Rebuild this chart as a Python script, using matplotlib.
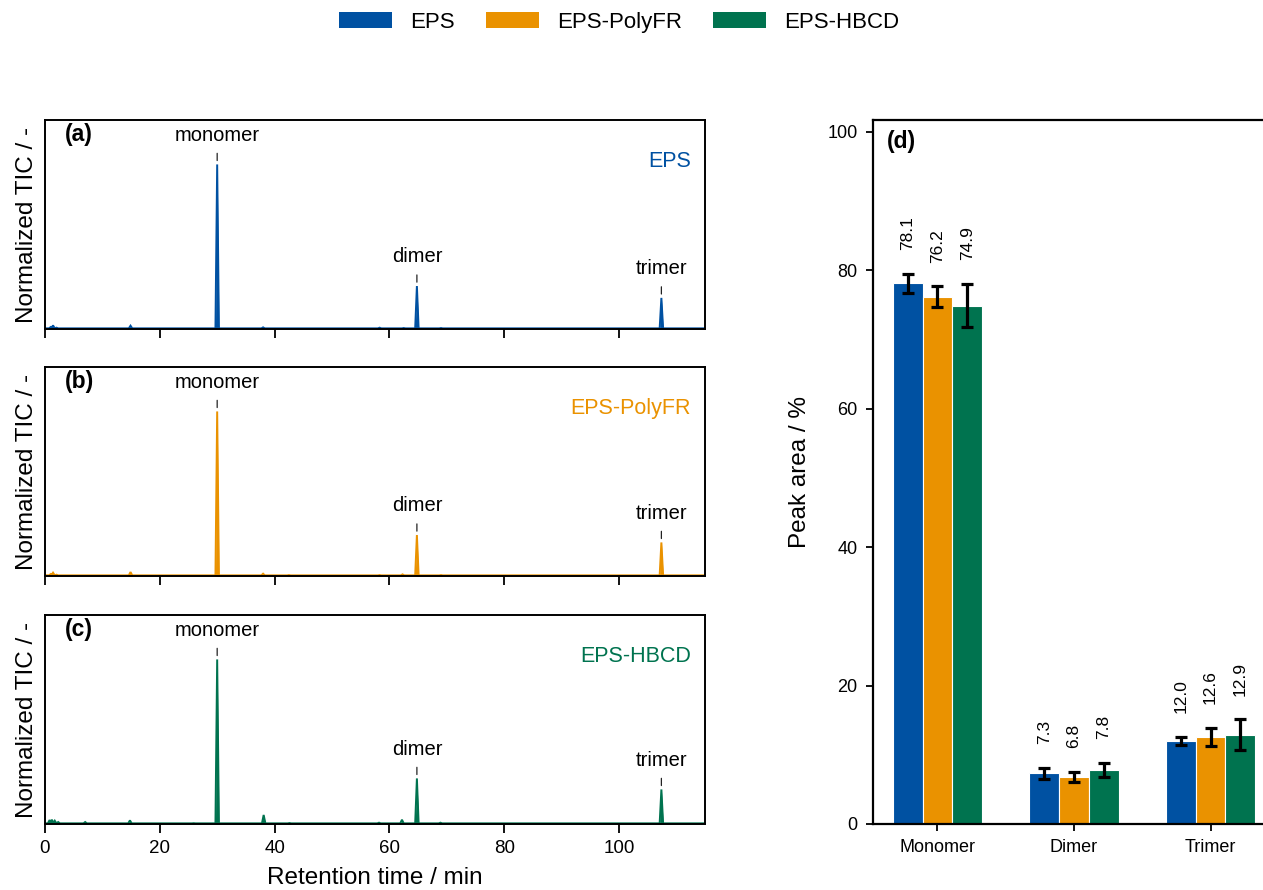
import numpy as np
import matplotlib
matplotlib.use("Agg")
import matplotlib.pyplot as plt
from matplotlib.patches import Patch

plt.rcParams['font.family'] = ['Liberation Sans', 'DejaVu Sans']

# sample names and colours
samples = ['EPS', 'EPS-PolyFR', 'EPS-HBCD']
colors = ['#0051A2', '#EA9200', '#00734F']

# chromatogram peaks (retention time / min, height rel. to monomer)
eps_times = [1.0, 1.4, 2.0, 14.9, 30.0, 38.0, 58.3, 62.5, 64.8, 69.0, 107.4]
eps_heights = [0.012, 0.022, 0.008, 0.020, 1.0, 0.010, 0.008, 0.006, 0.261, 0.006, 0.189]

polyfr_times = [1.0, 1.4, 2.0, 14.9, 30.0, 38.0, 42.5, 58.3, 62.3, 64.8, 69.0, 107.4]
polyfr_heights = [0.012, 0.020, 0.008, 0.024, 1.0, 0.014, 0.006, 0.006, 0.010, 0.249, 0.006, 0.204]

hbcd_times = [0.8, 1.2, 1.7, 2.3, 7.0, 14.8, 25.9, 30.0, 38.1, 42.6, 58.2, 62.2, 64.8, 68.9, 107.4]
hbcd_heights = [0.024, 0.026, 0.020, 0.012, 0.012, 0.022, 0.005, 1.0, 0.055, 0.006, 0.008, 0.026, 0.277, 0.008, 0.210]

# labelled oligomer peaks: (name, retention time)
oligomers = ['monomer', 'dimer', 'trimer']
oligomer_times = [30.0, 64.8, 107.4]

# bar chart values
categories = ['Monomer', 'Dimer', 'Trimer']
eps_area = [78.1, 7.3, 12.0]
polyfr_area = [76.2, 6.8, 12.6]
hbcd_area = [74.9, 7.8, 12.9]
eps_err = [1.4, 0.8, 0.6]
polyfr_err = [1.5, 0.7, 1.3]
hbcd_err = [3.1, 1.0, 2.2]

panel_labels = ['(a)', '(b)', '(c)']
traces = [(eps_times, eps_heights), (polyfr_times, polyfr_heights), (hbcd_times, hbcd_heights)]


def make_trace(times, heights, half=0.3, base=0.004):
    # turn a peak list into a spiky line trace
    x = [0.0]
    y = [base]
    for t, h in zip(times, heights):
        x += [t - half, t, t + half]
        y += [base, h, base]
    x.append(115.0)
    y.append(base)
    return np.array(x), np.array(y)


fig = plt.figure(figsize=(12.63, 8.9), dpi=100)

W, H = 1263.0, 890.0
chrom_tops = [120, 367, 615]
chrom_h = 209

for i, (tr, name, col) in enumerate(zip(traces, samples, colors)):
    top = chrom_tops[i]
    ax = fig.add_axes([45 / W, 1 - (top + chrom_h) / H, 660 / W, chrom_h / H])
    x, y = make_trace(*tr)
    ax.fill_between(x, 0, y, color=col, lw=0)
    ax.plot(x, y, color=col, lw=1.4, solid_joinstyle='miter')
    ax.set_xlim(0, 115)
    ax.set_ylim(0, 1.27)
    ax.set_yticks([])
    ax.set_xticks(np.arange(0, 101, 20))
    ax.tick_params(axis='x', direction='out', length=6.5, width=1.3, labelsize=13.5, pad=5)
    for s in ax.spines.values():
        s.set_linewidth(1.4)
    if i < 2:
        ax.tick_params(axis='x', labelbottom=False)
    else:
        ax.set_xlabel('Retention time / min', fontsize=17.5, labelpad=7)
    ax.set_ylabel('Normalized TIC / -', fontsize=17.5, labelpad=5)

    ax.text(0.03, 0.93, panel_labels[i], transform=ax.transAxes, fontsize=16.5,
            fontweight='bold', ha='left', va='center')
    ax.text(0.979, 0.80, name, transform=ax.transAxes, fontsize=15.5, color=col,
            ha='right', va='center')

    for lab, t in zip(oligomers, oligomer_times):
        h = tr[1][tr[0].index(t)]
        ax.annotate('', xy=(t, h), xytext=(0, 8), textcoords='offset points',
                    arrowprops=dict(arrowstyle='-', lw=0.9, color='#222222',
                                    shrinkA=0, shrinkB=2.8))
        ax.annotate(lab, xy=(t, h), xytext=(0, 17), textcoords='offset points',
                    ha='center', va='baseline', fontsize=14.5)

# bar chart (d)
axd = fig.add_axes([873 / W, 1 - 824 / H, 402 / W, 704 / H])
xpos = np.arange(len(categories))
bw = 0.218
areas = [eps_area, polyfr_area, hbcd_area]
errs = [eps_err, polyfr_err, hbcd_err]
for j in range(3):
    xs = xpos + (j - 1) * bw
    axd.bar(xs, areas[j], width=bw, color=colors[j], edgecolor='white', linewidth=0.8,
            yerr=errs[j], error_kw=dict(elinewidth=2.3, capsize=4.3, capthick=2.3, ecolor='black'))
    for xv, v, e in zip(xs, areas[j], errs[j]):
        axd.annotate(f'{v:.1f}', xy=(xv, v + e), xytext=(0, 17), textcoords='offset points',
                     rotation=90, ha='center', va='bottom', fontsize=12.5)

axd.set_xlim(-0.472, 2.472)
axd.set_ylim(0, 101.7)
axd.set_xticks(xpos)
axd.set_xticklabels(categories)
axd.set_yticks(np.arange(0, 101, 20))
axd.tick_params(direction='out', length=5, width=1.3, labelsize=13, pad=6)
for s in axd.spines.values():
    s.set_linewidth(1.6)
axd.set_ylabel('Peak area / %', fontsize=17.5, labelpad=12)
axd.text(0.035, 0.970, '(d)', transform=axd.transAxes, fontsize=16.5, fontweight='bold',
         ha='left', va='center')

handles = [Patch(facecolor=c, edgecolor='none') for c in colors]
fig.legend(handles, samples, loc='center', bbox_to_anchor=(0.490, 0.975), ncol=3,
           frameon=False, fontsize=16, handlelength=2.4, handleheight=0.75,
           handletextpad=0.8, columnspacing=1.4)

fig.savefig('out.png', dpi=100)
